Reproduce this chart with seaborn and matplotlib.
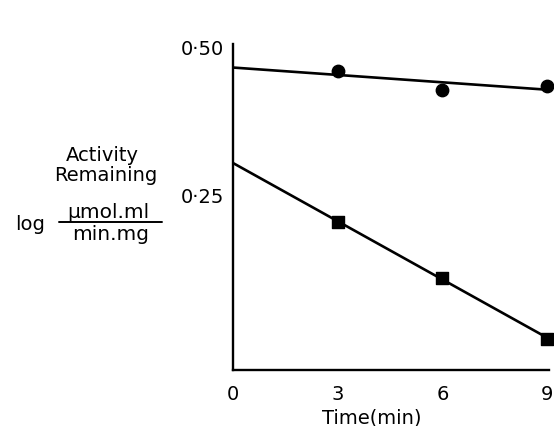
import matplotlib
matplotlib.use("Agg")
import matplotlib.pyplot as plt
import seaborn as sns
import numpy as np
import pandas as pd

# values
time_min = [3, 6, 9]
activity_circle = [0.459, 0.427, 0.434]
activity_square = [0.204, 0.110, 0.007]
x_ticks = [0, 3, 6, 9]
y_ticks = [0.25, 0.50]
y_ticklabels = ["0·25", "0·50"]

df = pd.DataFrame({"time": time_min,
                   "circle": activity_circle,
                   "square": activity_square})

sns.set_style("white")
plt.rcParams["font.family"] = ["DejaVu Sans"]
plt.rcParams["text.color"] = "black"
plt.rcParams["axes.labelcolor"] = "black"

fig = plt.figure(figsize=(5.54, 4.27), dpi=100)
ax = fig.add_axes([0.42, 0.131, 0.571, 0.764])
ax.set_xlim(0, 9.05)
ax.set_ylim(-0.046, 0.505)

sns.regplot(data=df, x="time", y="circle", ax=ax, ci=None, truncate=False,
            marker="o", color="black",
            scatter_kws={"s": 80, "clip_on": False, "alpha": 1},
            line_kws={"lw": 1.9})
sns.regplot(data=df, x="time", y="square", ax=ax, ci=None, truncate=False,
            marker="s", color="black",
            scatter_kws={"s": 75, "clip_on": False, "alpha": 1},
            line_kws={"lw": 1.9})

sns.despine(ax=ax)
for s in ["left", "bottom"]:
    ax.spines[s].set_linewidth(1.7)
    ax.spines[s].set_color("black")

ax.set_xticks(x_ticks)
ax.set_xticklabels([str(t) for t in x_ticks])
ax.set_yticks(y_ticks)
ax.set_yticklabels(y_ticklabels)
ax.tick_params(direction="in", length=4, width=1.2, labelsize=14, colors="black")
ax.tick_params(axis="x", pad=10)
ax.tick_params(axis="y", pad=6)

ax.set_xlabel("Time(min)", fontsize=14)
ax.xaxis.set_label_coords(0.44, -0.115)
ax.set_ylabel("")

# y label block
fig.text(0.185, 0.635, "Activity", fontsize=14, ha="center", va="center")
fig.text(0.19, 0.588, "Remaining", fontsize=14, ha="center", va="center")
fig.text(0.055, 0.475, "log", fontsize=14, ha="center", va="center")
fig.text(0.195, 0.503, "μmol.ml", fontsize=14.5, ha="center", va="center")
fig.text(0.2, 0.45, "min.mg", fontsize=14.5, ha="center", va="center")
fig.add_artist(plt.Line2D([0.107, 0.292], [0.477, 0.477], color="black", lw=1.4))

fig.savefig("out.png", dpi=100)
